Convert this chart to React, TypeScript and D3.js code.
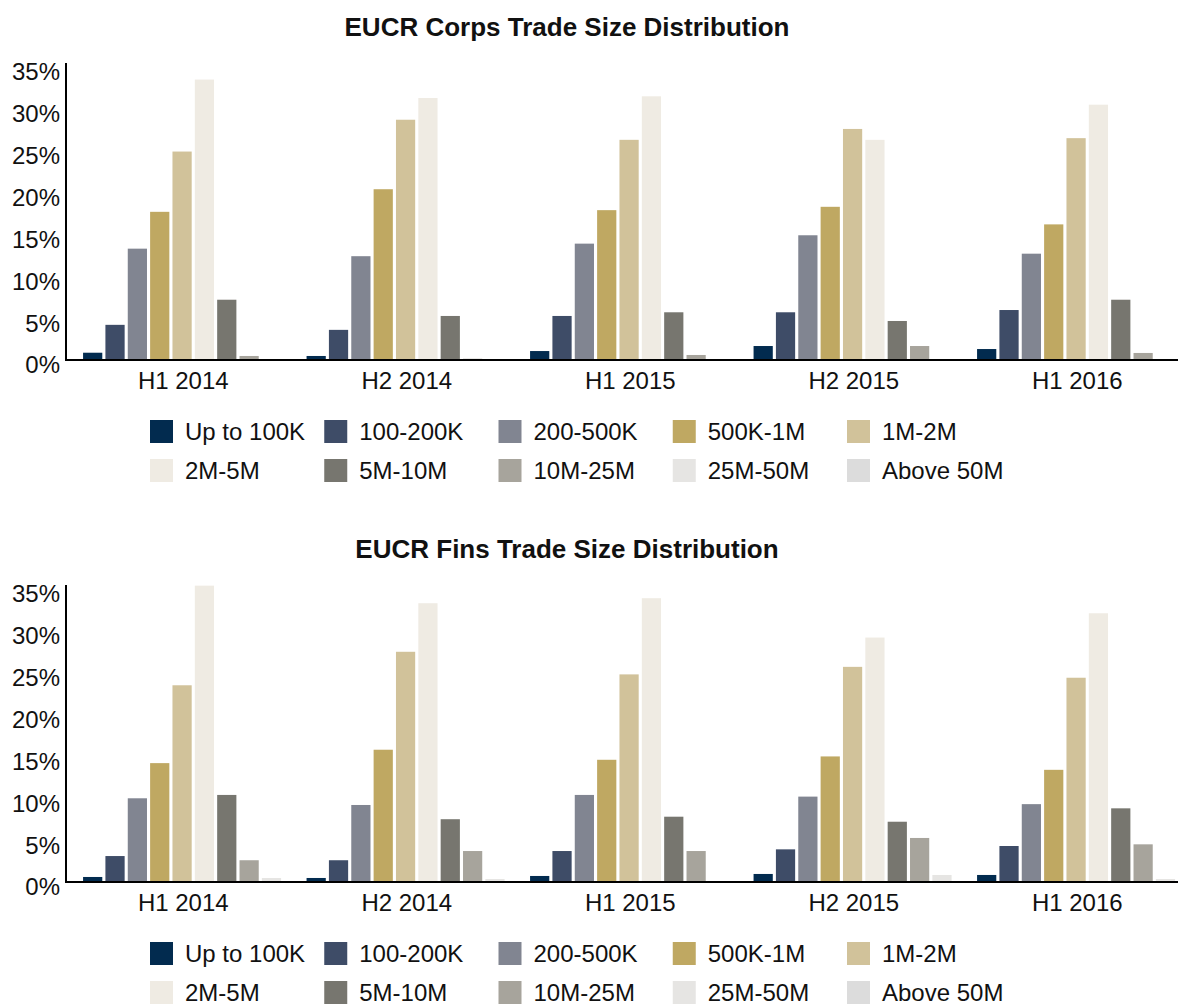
import * as d3 from "d3";

const periods = ["H1 2014", "H2 2014", "H1 2015", "H2 2015", "H1 2016"];
const buckets = [
  "Up to 100K", "100-200K", "200-500K", "500K-1M", "1M-2M",
  "2M-5M", "5M-10M", "10M-25M", "25M-50M", "Above 50M",
];
const bucketColors = [
  "#022b4f", "#3e4c67", "#818591", "#bfa862", "#d1c29a",
  "#efebe3", "#77766f", "#a7a49c", "#e6e5e3", "#dcdcdc",
];
const yTicks = [0, 5, 10, 15, 20, 25, 30, 35];

// percent of trades per bucket, one row per period
const corpsH1_2014 = [0.87, 4.2, 13.3, 17.7, 24.9, 33.5, 7.2, 0.48, 0.1, 0.05];
const corpsH2_2014 = [0.48, 3.6, 12.4, 20.4, 28.7, 31.3, 5.26, 0.15, 0.05, 0.02];
const corpsH1_2015 = [1.07, 5.26, 13.9, 17.9, 26.3, 31.5, 5.7, 0.6, 0.05, 0.02];
const corpsH2_2015 = [1.67, 5.7, 14.9, 18.3, 27.6, 26.3, 4.66, 1.67, 0.1, 0.03];
const corpsH1_2016 = [1.31, 5.97, 12.7, 16.2, 26.5, 30.5, 7.2, 0.84, 0.1, 0.03];

const finsH1_2014 = [0.6, 3.1, 10.0, 14.2, 23.5, 35.4, 10.4, 2.6, 0.48, 0.05];
const finsH2_2014 = [0.48, 2.6, 9.2, 15.8, 27.5, 33.3, 7.5, 3.7, 0.36, 0.05];
const finsH1_2015 = [0.72, 3.7, 10.4, 14.6, 24.8, 33.9, 7.8, 3.7, 0.1, 0.05];
const finsH2_2015 = [0.96, 3.9, 10.2, 15.0, 25.7, 29.2, 7.2, 5.26, 0.84, 0.1];
const finsH1_2016 = [0.84, 4.3, 9.3, 13.4, 24.4, 32.1, 8.8, 4.5, 0.36, 0.05];

const corpsRows = [corpsH1_2014, corpsH2_2014, corpsH1_2015, corpsH2_2015, corpsH1_2016];
const finsRows = [finsH1_2014, finsH2_2014, finsH1_2015, finsH2_2015, finsH1_2016];

const W = 1178;
const H = 1007;
const font = "'Liberation Sans', Arial, Helvetica, sans-serif";

const axisX = 66;
const x0 = d3.scaleBand<string>().domain(periods).range([81.5, 1199]).padding(0);
const x1 = d3
  .scaleBand<string>()
  .domain(buckets)
  .range([0, x0.bandwidth()])
  .paddingInner(0.14)
  .paddingOuter(0.07);

const legendX = d3.scalePoint<number>().domain([0, 1, 2, 3, 4]).range([150, 847]);

function Panel({ title, rows, top }: { title: string; rows: number[][]; top: number }) {
  const base = top + 360;
  const y = d3.scaleLinear().domain([0, 35]).range([base, base - 293]);

  return (
    <g>
      <text x={567} y={top + 36} textAnchor="middle" fontFamily={font} fontWeight="bold" fontSize={26} fill="#111">
        {title}
      </text>

      {rows.map((row, pi) => (
        <g key={periods[pi]} transform={`translate(${x0(periods[pi])},0)`}>
          {row.map((v, bi) => (
            <rect
              key={buckets[bi]}
              x={x1(buckets[bi])}
              y={y(v)}
              width={x1.bandwidth()}
              height={base - y(v)}
              fill={bucketColors[bi]}
            />
          ))}
        </g>
      ))}

      {/* y axis */}
      <line x1={axisX} x2={axisX} y1={base - 297} y2={base + 1} stroke="#000" strokeWidth={2} />
      <line x1={axisX - 1} x2={W} y1={base} y2={base} stroke="#000" strokeWidth={2} />
      {yTicks.map((t) => (
        <text key={t} x={60} y={y(t) + 5} dy="0.35em" textAnchor="end" fontFamily={font} fontSize={24} fill="#111">
          {t}%
        </text>
      ))}

      {/* x labels */}
      {periods.map((p) => (
        <text
          key={p}
          x={(x0(p) ?? 0) + x0.bandwidth() / 2 - 10}
          y={base + 29}
          textAnchor="middle"
          fontFamily={font}
          fontSize={24}
          fill="#111"
        >
          {p}
        </text>
      ))}

      {/* legend */}
      {buckets.map((b, i) => {
        const lx = legendX(i % 5) ?? 0;
        const ly = base + 60 + Math.floor(i / 5) * 39;
        return (
          <g key={b}>
            <rect x={lx} y={ly} width={23} height={23} fill={bucketColors[i]} />
            <text x={lx + 35} y={ly + 12} dy="0.35em" fontFamily={font} fontSize={24} fill="#111">
              {b}
            </text>
          </g>
        );
      })}
    </g>
  );
}

export default function App() {
  return (
    <svg
      width={W}
      height={H}
      viewBox={`0 0 ${W} ${H}`}
      style={{ position: "absolute", left: 0, top: 0, background: "#fff" }}
    >
      <Panel title="EUCR Corps Trade Size Distribution" rows={corpsRows} top={0} />
      <Panel title="EUCR Fins Trade Size Distribution" rows={finsRows} top={522} />
    </svg>
  );
}
